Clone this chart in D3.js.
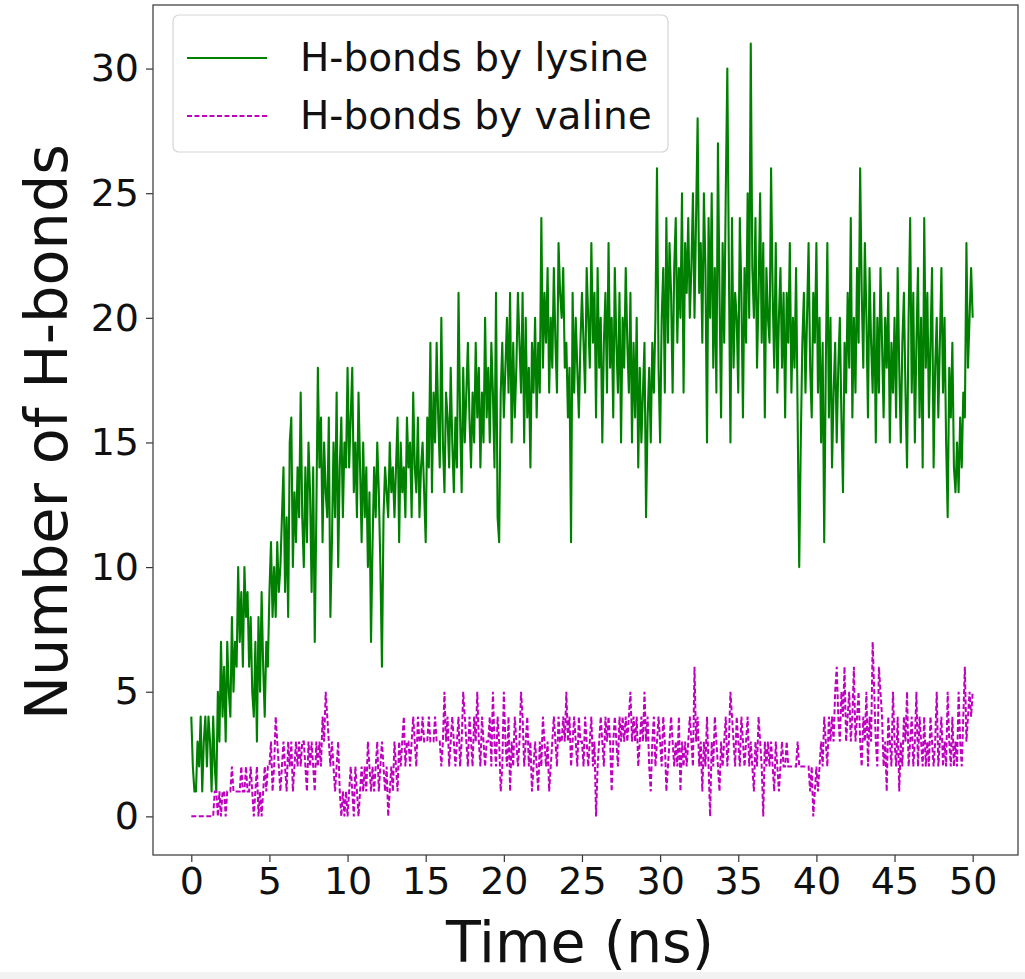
<!DOCTYPE html>
<html>
<head>
<meta charset="utf-8">
<script src="https://cdn.jsdelivr.net/npm/d3@7"></script>
<style>
  html, body { margin: 0; padding: 0; background: #fff; }
  svg { display: block; font-family: "DejaVu Sans", sans-serif; }
</style>
</head>
<body>
<svg id="chart" width="1025" height="979"></svg>
<script>
// ---- data (time step 0.1 ns, 0 .. 50 ns) ----
const timeStep = 0.1;
const lysine = [
 4,2,1,1,3,2,4,1,3,4,
 2,4,3,1,4,2,1,5,3,7,
 4,6,3,7,5,4,8,5,7,6,
 10,7,9,6,10,8,9,6,8,5,
 4,7,3,8,5,9,6,4,7,6,
 9,11,8,10,8,11,9,10,12,14,
 9,12,8,15,16,10,13,11,14,12,
 17,12,10,14,11,15,13,9,14,7,
 12,18,14,16,11,15,13,12,16,8,
 11,15,12,17,10,14,16,12,15,14,
 18,14,16,18,13,15,12,17,14,11,
 15,12,14,10,13,7,11,14,12,15,
 13,10,6,12,14,13,12,15,13,14,
 12,14,16,11,15,13,14,12,16,14,
 15,12,17,14,13,16,12,14,15,13,
 11,16,14,19,13,17,15,19,16,14,
 20,15,13,17,16,14,18,15,13,16,
 14,21,16,13,18,15,17,19,16,14,
 17,15,19,16,18,14,17,15,20,16,
 18,15,19,17,14,21,12,11,17,19,
 16,18,20,17,21,15,19,16,18,21,
 19,17,21,15,20,16,18,14,19,17,
 20,16,19,17,24,18,21,19,22,17,
 20,18,22,19,17,23,21,20,22,18,
 19,16,18,11,21,17,20,18,16,19,
 21,19,17,22,20,18,23,19,21,16,
 22,18,20,15,19,21,17,23,18,20,
 16,22,19,17,21,15,20,18,22,19,
 17,21,15,19,16,20,14,18,15,17,
 19,12,16,18,15,19,17,20,26,18,
 15,20,22,17,24,19,23,21,17,22,
 24,19,22,20,25,17,23,21,24,20,
 22,25,20,24,28,21,23,19,25,22,
 15,24,20,25,18,22,17,27,21,16,
 23,19,25,30,22,15,24,18,21,20,
 17,24,21,16,22,19,25,20,31,22,
 20,24,18,21,25,19,23,16,22,20,
 19,26,21,18,23,17,20,22,18,21,
 16,21,19,23,17,20,18,22,16,10,
 15,19,21,17,20,23,18,16,21,19,
 23,17,20,15,19,11,18,23,16,20,
 14,17,19,15,18,20,16,13,19,17,
 21,18,24,16,20,17,22,19,26,21,
 18,23,20,16,22,19,17,21,15,20,
 17,22,19,16,20,18,21,15,19,17,
 20,16,22,18,15,19,21,17,14,20,
 24,17,21,15,19,22,16,20,14,24,
 18,21,16,19,22,14,18,20,16,19,
 22,17,20,15,12,18,16,19,14,13,
 15,13,16,14,17,16,23,18,20,22,
 20
];
const valine = [
 0,0,0,0,0,0,0,0,0,0,
 0,0,0,0,0,1,1,0,1,0,
 1,1,0,1,1,1,2,1,1,1,
 1,1,2,1,1,2,1,1,2,1,
 0,1,2,0,1,0,1,2,1,2,
 2,3,1,2,4,3,2,1,2,3,
 2,1,3,2,3,1,2,3,2,3,
 2,3,3,2,1,3,2,3,2,1,
 3,2,3,2,4,3,5,4,3,2,
 3,2,1,2,3,1,0,1,0,1,
 0,1,2,1,0,2,1,0,1,2,
 1,2,1,3,2,1,2,1,2,3,
 1,2,3,2,1,2,0,1,2,1,
 3,2,1,3,2,3,4,2,3,3,
 2,3,4,3,2,4,3,3,4,3,
 3,3,4,3,3,3,4,3,3,3,
 2,3,5,3,4,2,3,4,3,2,
 3,4,2,3,5,4,3,2,4,3,
 2,4,3,5,3,2,4,3,2,3,
 3,4,2,5,3,2,4,3,1,2,
 5,3,2,4,1,3,2,4,3,2,
 3,5,4,2,3,4,2,3,1,2,
 3,2,1,3,2,4,3,2,3,1,
 2,3,4,3,2,4,3,3,4,3,
 5,3,4,2,3,4,3,2,4,3,
 3,2,4,3,2,3,4,2,3,0,
 2,3,4,3,2,4,3,4,3,1,
 3,4,3,2,4,3,4,3,4,3,
 4,5,3,4,3,4,2,3,4,3,
 5,3,4,2,1,3,4,2,3,4,
 3,2,4,3,1,2,3,4,3,2,
 3,2,4,1,3,2,3,2,3,4,
 3,2,6,3,4,2,3,1,3,2,
 4,2,0,3,2,4,3,2,1,3,
 2,3,4,2,3,5,4,3,2,4,
 3,2,4,3,2,3,4,2,3,2,
 1,3,2,4,3,2,0,3,2,3,
 2,3,2,1,3,2,1,2,3,2,
 2,3,2,2,2,2,2,2,3,2,
 2,2,2,2,2,2,1,2,0,1,
 2,1,2,3,2,4,3,2,4,3,
 4,3,5,6,4,3,5,4,6,3,
 4,5,3,4,6,3,4,5,3,2,
 4,3,5,2,4,3,7,5,3,2,
 6,5,4,2,3,1,4,3,2,5,
 3,2,4,1,3,2,4,3,5,2,
 3,4,2,3,5,2,4,3,2,4,
 2,3,2,4,3,2,3,5,2,3,
 4,2,3,2,5,3,2,4,2,3,
 2,5,3,2,4,6,3,4,5,4,
 5
];
const xTicks = [0, 5, 10, 15, 20, 25, 30, 35, 40, 45, 50];
const yTicks = [0, 5, 10, 15, 20, 25, 30];
const seriesNames = ["H-bonds by lysine", "H-bonds by valine"];
const seriesColors = ["#008000", "#bf00bf"];
const xTitle = "Time (ns)";
const yTitle = "Number of H-bonds";

// ---- layout ----
const plot = { left: 153, top: 5, right: 1018, bottom: 855 };
const svg = d3.select("#chart");

svg.append("rect").attr("x", 0).attr("y", 0).attr("width", 1025).attr("height", 979).attr("fill", "#fff");

const x = d3.scaleLinear().domain([-2.45, 52.9]).range([plot.left, plot.right]);
const y = d3.scaleLinear().domain([-1.55, 32.55]).range([plot.bottom, plot.top]);

svg.append("clipPath").attr("id", "plotclip")
  .append("rect").attr("x", plot.left).attr("y", plot.top)
  .attr("width", plot.right - plot.left).attr("height", plot.bottom - plot.top);

const line = d3.line()
  .x((d, i) => x(i * timeStep))
  .y(d => y(d));

const g = svg.append("g").attr("clip-path", "url(#plotclip)");
g.append("path").datum(lysine)
  .attr("d", line).attr("fill", "none")
  .attr("stroke", seriesColors[0]).attr("stroke-width", 2.1)
  .attr("stroke-linejoin", "round");
g.append("path").datum(valine)
  .attr("d", line).attr("fill", "none")
  .attr("stroke", seriesColors[1]).attr("stroke-width", 2)
  .attr("stroke-dasharray", "5,2.5");

// axes
const xAxis = d3.axisBottom(x).tickValues(xTicks).tickSize(7).tickPadding(5).tickFormat(d3.format("d"));
const yAxis = d3.axisLeft(y).tickValues(yTicks).tickSize(7).tickPadding(7).tickFormat(d3.format("d"));

const gx = svg.append("g").attr("transform", `translate(0,${plot.bottom})`).call(xAxis);
const gy = svg.append("g").attr("transform", `translate(${plot.left},0)`).call(yAxis);
[gx, gy].forEach(a => {
  a.select(".domain").remove();
  a.selectAll(".tick line").attr("stroke", "#333").attr("stroke-width", 1.2);
  a.selectAll(".tick text").attr("fill", "#111").style("font-size", "38px")
    .style("font-family", "DejaVu Sans, sans-serif");
});

// frame
svg.append("rect").attr("x", plot.left).attr("y", plot.top)
  .attr("width", plot.right - plot.left).attr("height", plot.bottom - plot.top)
  .attr("fill", "none").attr("stroke", "#444").attr("stroke-width", 1.3);

// titles
svg.append("text").attr("x", 580).attr("y", 962)
  .attr("text-anchor", "middle").style("font-size", "57px").attr("fill", "#111").text(xTitle);
svg.append("text").attr("transform", `translate(67,${432}) rotate(-90)`)
  .attr("text-anchor", "middle").style("font-size", "59px").attr("fill", "#111").text(yTitle);

// legend
const lg = svg.append("g");
lg.append("rect").attr("x", 173).attr("y", 15).attr("width", 495).attr("height", 137)
  .attr("rx", 6).attr("fill", "#fff").attr("fill-opacity", 0.85)
  .attr("stroke", "#d6d6d6").attr("stroke-width", 1.2);
seriesNames.forEach((name, i) => {
  const yy = 58 + i * 58;
  lg.append("line").attr("x1", 187).attr("x2", 267).attr("y1", yy).attr("y2", yy)
    .attr("stroke", seriesColors[i]).attr("stroke-width", 2)
    .attr("stroke-dasharray", i === 1 ? "5,2.5" : null);
  lg.append("text").attr("x", 300).attr("y", yy + 13).style("font-size", "39px")
    .attr("fill", "#111").text(name);
});

// faint bottom strip (page edge)
svg.append("rect").attr("x", 0).attr("y", 972).attr("width", 1025).attr("height", 7).attr("fill", "#f2f2f2");
</script>
</body>
</html>
